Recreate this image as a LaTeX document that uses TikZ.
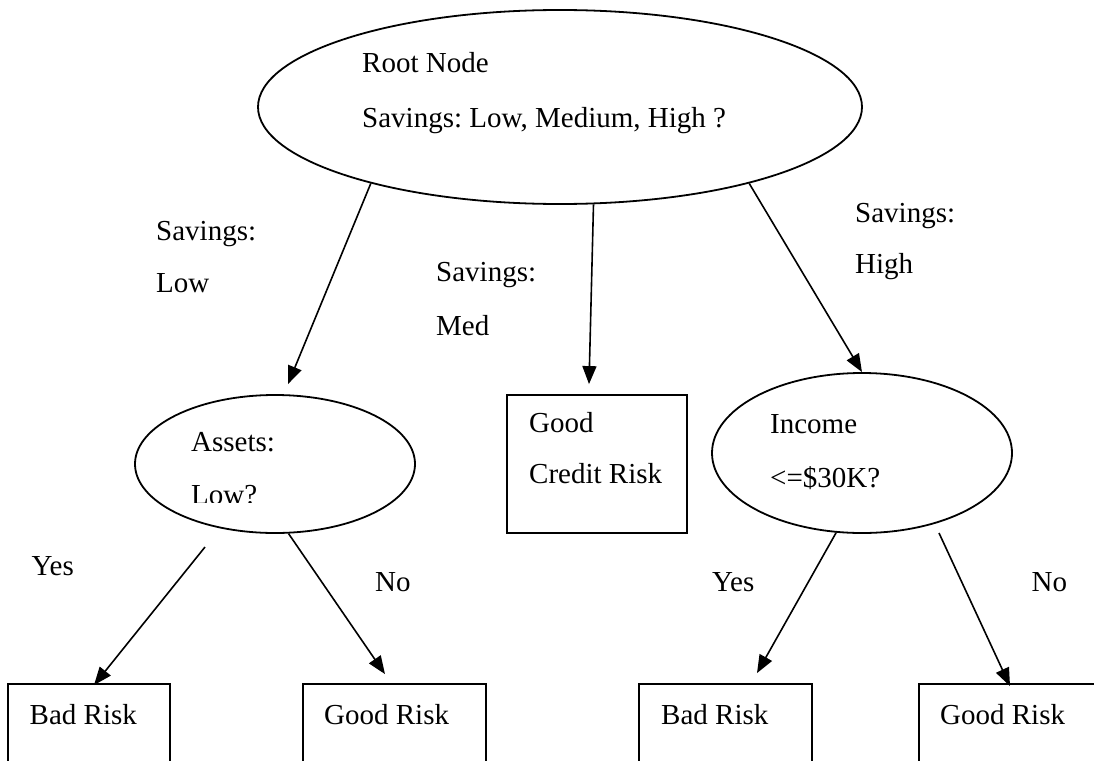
\documentclass[tikz,border=0pt]{standalone}
\usepackage{fontspec}
\setmainfont{Liberation Serif}
\usetikzlibrary{shapes.geometric,arrows.meta,calc}
\frenchspacing
\begin{document}
\begin{tikzpicture}[x=1pt,y=-1pt,
  every node/.style={font=\fontsize{29}{35}\selectfont},
  oval/.style={ellipse,draw,line width=1.8pt,inner sep=0pt},
  leaf/.style={rectangle,draw,line width=1.8pt,inner sep=0pt},
  txt/.style={anchor=base west,inner sep=0pt},
  link/.style={line width=1.6pt,-{Triangle[length=18pt,width=14pt]}}]
\clip (0,0) rectangle (1094,760);
\fill[white] (0,0) rectangle (1094,760);

% decision nodes
\node[oval,minimum width=604pt,minimum height=194pt] (root) at (560,107) {};
\node[oval,minimum width=280pt,minimum height=138pt] (assets) at (275,464) {};
\node[oval,minimum width=300pt,minimum height=160pt] (inc) at (862,453) {};

% leaves
\node[leaf,minimum width=180pt,minimum height=138pt] (good) at (597,464) {};
\node[leaf,minimum width=162pt,minimum height=120pt] (b1) at (89,744) {};
\node[leaf,minimum width=183pt,minimum height=120pt] (b2) at (394.5,744) {};
\node[leaf,minimum width=173pt,minimum height=120pt] (b3) at (725.5,744) {};
\node[leaf,minimum width=191pt,minimum height=120pt] (b4) at (1014.5,744) {};

% node texts
\node[txt] (rootA) at (362,73) {Root Node};
\node[txt] (rootB) at (362,127) {Savings: Low, Medium, High ?};
\node[txt] (assetsA) at (191,451) {Assets:};
\begin{scope}
  \clip (150,420) rectangle (400,502);
  \node[txt] (assetsB) at (191,504) {Low?};
\end{scope}
\node[txt] (incA) at (770,433) {Income};
\node[txt] (incB) at (770,487) {<=\$30K?};
\node[txt] (goodA) at (529,432) {Good};
\node[txt] (goodB) at (529,483) {Credit Risk};
\node[txt] (b1t) at (29.5,724) {Bad Risk};
\node[txt] (b2t) at (324,724) {Good Risk};
\node[txt] (b3t) at (661,724) {Bad Risk};
\node[txt] (b4t) at (940,724) {Good Risk};

% branch labels
\node[txt] (lLowA) at (156,240) {Savings:};
\node[txt] (lLowB) at (156,292) {Low};
\node[txt] (lMedA) at (436,281) {Savings:};
\node[txt] (lMedB) at (436,335) {Med};
\node[txt] (lHiA) at (855,222) {Savings:};
\node[txt] (lHiB) at (855,273) {High};
\node[txt] (lYes1) at (31.5,575) {Yes};
\node[txt] (lNo1) at (375,591) {No};
\node[txt] (lYes2) at (712,591) {Yes};
\node[txt] (lNo2) at (1031.5,591) {No};

% free starts of two branches
\coordinate (yesStart) at (205,547);
\coordinate (noStart) at (939,533);

% branches
\draw[link] (root.202.4) -- ($(assets.north)+(13,-10)$);
\draw[link] (root.289) -- ($(good.north)+(-8,-10)$);
\draw[link] (root.338.6) -- (inc.north);
\draw[link] (yesStart) -- ($(b1.north)+(5,2)$);
\draw[link] (assets.281.5) -- ($(b2.north)+(-9.5,-9)$);
\draw[link] (inc.252.6) -- ($(b3.north)+(31.5,-10)$);
\draw[link] (noStart) -- ($(b4.north)+(-4.5,3)$);
\end{tikzpicture}
\end{document}
